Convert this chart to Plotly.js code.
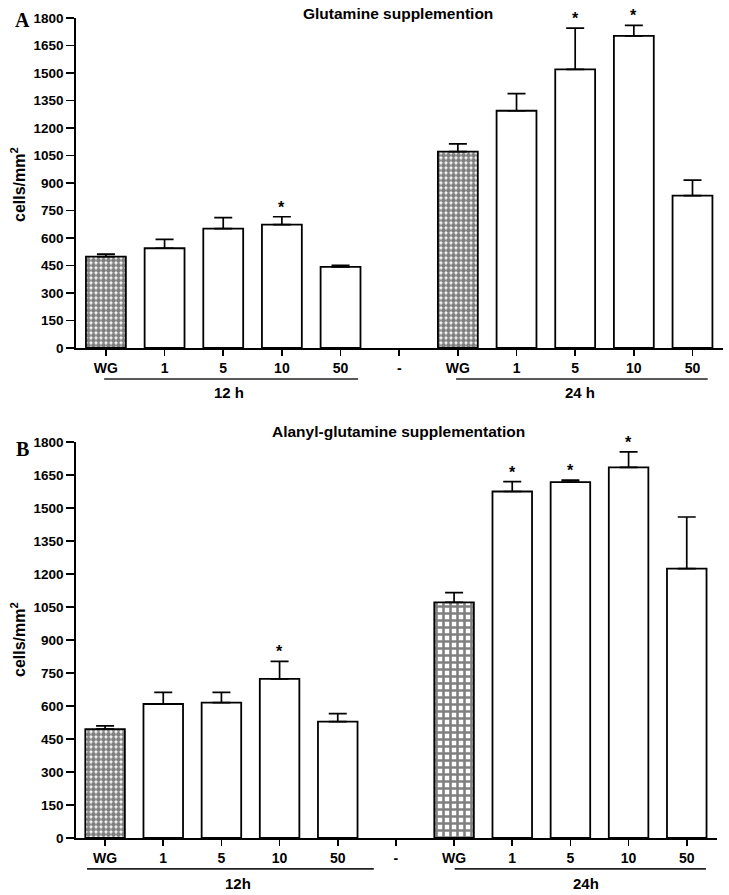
<!DOCTYPE html>
<html>
<head>
<meta charset="utf-8">
<script src="https://cdn.plot.ly/plotly-3.0.1.min.js"></script>
<style>html,body{margin:0;padding:0;background:#fff;}#chart{width:729px;height:895px;}</style>
</head>
<body>
<div id="chart"></div>
<script>
// ---- data ----
const categories12 = ['WG', '1', '5', '10', '50'];
const separatorLabel = '-';
const categories24 = ['WG', '1', '5', '10', '50'];
const groupLabelsA = ['12 h', '24 h'];
const groupLabelsB = ['12h', '24h'];
const titleA = 'Glutamine supplemention';
const titleB = 'Alanyl-glutamine supplementation';
const yTickValues = [0, 150, 300, 450, 600, 750, 900, 1050, 1200, 1350, 1500, 1650, 1800];

const glnMean12 = [498, 544, 651, 673, 443];
const glnErr12  = [14, 49, 60, 43, 8];
const glnStar12 = [false, false, false, true, false];
const glnMean24 = [1071, 1294, 1520, 1702, 831];
const glnErr24  = [42, 93, 225, 58, 85];
const glnStar24 = [false, false, true, true, false];

const alaMean12 = [495, 609, 615, 723, 529];
const alaErr12  = [15, 53, 47, 80, 36];
const alaStar12 = [false, false, false, true, false];
const alaMean24 = [1071, 1575, 1618, 1685, 1224];
const alaErr24  = [44, 45, 9, 70, 235];
const alaStar24 = [false, true, true, true, false];

// ---- build ----
const allLabels = [...categories12, separatorLabel, ...categories24];
const tickPositions = allLabels.map((_, i) => i);
const x12 = categories12.map((_, i) => i);
const x24 = categories24.map((_, i) => i + categories12.length + 1);
const barX = [...x12, ...x24];

const FONT = 'Liberation Sans, Arial, sans-serif';
const W = 729, H = 895;

function barTrace(mean12, err12, mean24, err24, patterns, sizes, solid, xa, ya) {
  const y = [...mean12, ...mean24];
  const e = [...err12, ...err24];
  return {
    type: 'bar', x: barX, y: y, xaxis: xa, yaxis: ya, width: 0.68,
    marker: {
      color: 'white',
      line: {color: 'black', width: 1.8},
      pattern: {shape: patterns, fgcolor: 'black', bgcolor: 'white', size: sizes, solidity: solid, fillmode: 'overlay'}
    },
    error_y: {type: 'data', symmetric: false, array: e, arrayminus: e.map(() => 0),
              color: 'black', thickness: 1.7, width: 9},
    showlegend: false, hoverinfo: 'skip'
  };
}

const patA = ['.', '', '', '', '', '.', '', '', '', ''];
const patB = ['.', '', '', '', '', '+', '', '', '', ''];
const sizeA = [5, 5, 5, 5, 5, 5, 5, 5, 5, 5];
const sizeB = [5, 5, 5, 5, 5, 7, 5, 5, 5, 5];
const solA = [0.72, 0.5, 0.5, 0.5, 0.5, 0.72, 0.5, 0.5, 0.5, 0.5];
const solB = [0.72, 0.5, 0.5, 0.5, 0.5, 0.6, 0.5, 0.5, 0.5, 0.5];

const trA = barTrace(glnMean12, glnErr12, glnMean24, glnErr24, patA, sizeA, solA, 'x', 'y');
const trB = barTrace(alaMean12, alaErr12, alaMean24, alaErr24, patB, sizeB, solB, 'x2', 'y2');

function starAnnotations(mean12, err12, star12, mean24, err24, star24, xr, yr) {
  const anns = [];
  const m = [...mean12, ...mean24], e = [...err12, ...err24], s = [...star12, ...star24];
  s.forEach((flag, i) => {
    if (flag) anns.push({x: barX[i], y: m[i] + e[i], xref: xr, yref: yr, text: '*',
      showarrow: false, xanchor: 'center', yanchor: 'bottom', yshift: -1,
      font: {family: FONT, size: 16, color: 'black', weight: 'bold'}});
  });
  return anns;
}

function axisX(domain, range, anchor) {
  return {domain: domain, range: range, anchor: anchor, tickmode: 'array', tickvals: tickPositions,
    ticktext: allLabels, ticks: 'outside', ticklen: 6, tickwidth: 1.6, tickcolor: 'black',
    showline: true, linecolor: 'black', linewidth: 1.8, showgrid: false, zeroline: false,
    tickfont: {family: FONT, size: 14, color: 'black', weight: 'bold'}, fixedrange: true};
}
function axisY(domain, anchor) {
  return {domain: domain, range: [0, 1800], anchor: anchor, tickmode: 'array', tickvals: yTickValues,
    ticks: 'outside', ticklen: 8, tickwidth: 1.6, tickcolor: 'black',
    showline: true, linecolor: 'black', linewidth: 1.8, showgrid: false, zeroline: false,
    tickfont: {family: FONT, size: 13.5, color: 'black', weight: 'bold'}, fixedrange: true};
}

const lblFont = {family: FONT, size: 15.5, color: 'black', weight: 'bold'};
const grpFont = {family: FONT, size: 15, color: 'black', weight: 'bold'};
function txt(text, x, y, xref, yref, font, extra) {
  return Object.assign({text: text, x: x, y: y, xref: xref, yref: yref, showarrow: false,
    xanchor: 'center', yanchor: 'middle', font: font}, extra || {});
}
const serif = {family: 'Liberation Serif, Times New Roman, serif', size: 20, color: 'black', weight: 'bold'};
const annotations = [
  ...starAnnotations(glnMean12, glnErr12, glnStar12, glnMean24, glnErr24, glnStar24, 'x', 'y'),
  ...starAnnotations(alaMean12, alaErr12, alaStar12, alaMean24, alaErr24, alaStar24, 'x2', 'y2'),
  txt(titleA, 398 / W, 1 - 13 / H, 'paper', 'paper', lblFont),
  txt(titleB, 398 / W, 1 - 432 / H, 'paper', 'paper', lblFont),
  txt('A', 22 / W, 1 - 20 / H, 'paper', 'paper', serif),
  txt('B', 22 / W, 1 - 449 / H, 'paper', 'paper', serif),
  txt('cells/mm<sup>2</sup>', 18 / W, 1 - 185 / H, 'paper', 'paper', {...lblFont, size: 16}, {textangle: -90}),
  txt('cells/mm<sup>2</sup>', 18 / W, 1 - 640 / H, 'paper', 'paper', {...lblFont, size: 16}, {textangle: -90}),
  txt(groupLabelsA[0], 2.1, -0.136, 'x', 'y domain', grpFont),
  txt(groupLabelsA[1], 8.08, -0.136, 'x', 'y domain', grpFont),
  txt(groupLabelsB[0], 2.29, -0.114, 'x2', 'y2 domain', grpFont),
  txt(groupLabelsB[1], 8.26, -0.114, 'x2', 'y2 domain', grpFont)
];

const lineStyle = {color: '#222', width: 1.7};
const shapes = [
  {type: 'line', xref: 'x', yref: 'y domain', x0: -0.03, x1: 4.30, y0: -0.094, y1: -0.094, line: lineStyle},
  {type: 'line', xref: 'x', yref: 'y domain', x0: 5.97, x1: 10.26, y0: -0.094, y1: -0.094, line: lineStyle},
  {type: 'line', xref: 'x2', yref: 'y2 domain', x0: -0.31, x1: 4.62, y0: -0.078, y1: -0.078, line: lineStyle},
  {type: 'line', xref: 'x2', yref: 'y2 domain', x0: 6.01, x1: 10.33, y0: -0.078, y1: -0.078, line: lineStyle}
];

const layout = {
  width: W, height: H, margin: {l: 0, r: 0, t: 0, b: 0},
  paper_bgcolor: 'white', plot_bgcolor: 'white', showlegend: false,
  xaxis: axisX([76 / W, 723 / W], [-0.51, 10.52], 'y'),
  yaxis: axisY([1 - 348 / H, 1 - 18 / H], 'x'),
  xaxis2: axisX([76 / W, 717 / W], [-0.5, 10.52], 'y2'),
  yaxis2: axisY([1 - 838 / H, 1 - 442 / H], 'x2'),
  annotations: annotations, shapes: shapes, bargap: 0
};

Plotly.newPlot('chart', [trA, trB], layout, {displayModeBar: false, staticPlot: true});
</script>
</body>
</html>
